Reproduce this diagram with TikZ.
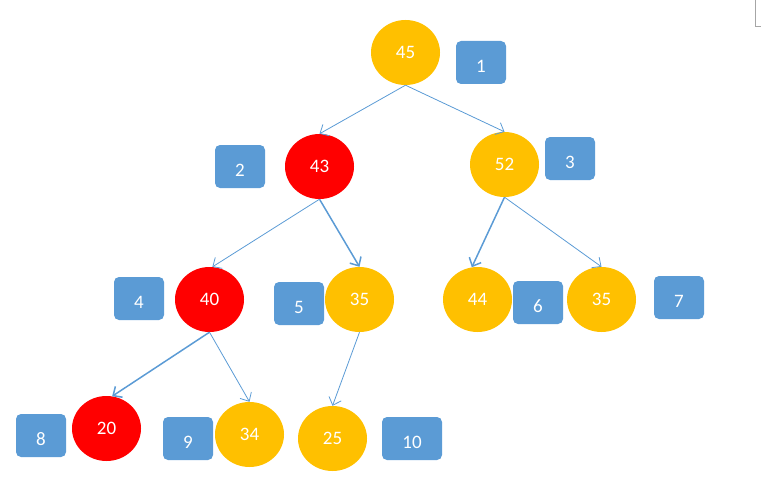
\documentclass[tikz,border=0pt]{standalone}
\usepackage{fontspec}
\setmainfont{Carlito}
\usetikzlibrary{shapes.geometric,arrows.meta}
\definecolor{gold}{HTML}{FFC000}
\definecolor{redn}{HTML}{FF0000}
\definecolor{bluebox}{HTML}{5B9BD5}
\definecolor{arrowc}{HTML}{5B9BD5}
\tikzset{
  circ/.style={ellipse, minimum width=69pt, minimum height=65pt, inner sep=0pt,
    text=white, font=\fontsize{19}{22}\selectfont, text height=12pt, text depth=0pt},
  goldc/.style={circ, fill=gold},
  redc/.style={circ, fill=redn},
  numbox/.style={rectangle, rounded corners=5pt, fill=bluebox, minimum width=50pt,
    minimum height=43pt, inner sep=0pt, text=white, font=\fontsize{19}{22}\selectfont,
    text height=20pt, text depth=0pt},
  edge/.style={draw=arrowc, line width=0.8pt, -{Straight Barb[length=7pt,width=13pt]}},
  thickedge/.style={edge, line width=1.5pt}
}
\begin{document}
\begin{tikzpicture}[x=1pt,y=-1pt]
\useasboundingbox (0,0) rectangle (761,495);
% nodes
\node[goldc] (n45) at (405.5,52.5) {45};
\node[numbox] (b1) at (481,62.5) {1};
\node[redc] (n43) at (319.5,166.5) {43};
\node[numbox] (b2) at (240,166.5) {2};
\node[goldc] (n52) at (504.5,164.5) {52};
\node[numbox] (b3) at (570,158.5) {3};
\node[redc] (n40) at (209.5,299.5) {40};
\node[numbox] (b4) at (139,298.5) {4};
\node[numbox] (b5) at (299,303.5) {5};
\node[goldc] (n35a) at (359.5,299.5) {35};
\node[goldc] (n44) at (477.5,299.5) {44};
\node[numbox] (b6) at (538,302.5) {6};
\node[goldc] (n35b) at (601.5,299.5) {35};
\node[numbox] (b7) at (679,297.5) {7};
\node[numbox] (b8) at (41,435.5) {8};
\node[redc] (n20) at (106.5,428.5) {20};
\node[numbox] (b9) at (188,438.5) {9};
\node[goldc] (n34) at (249.5,434.5) {34};
\node[goldc] (n25) at (332.5,438.5) {25};
\node[numbox, minimum width=60pt] (b10) at (412,438.5) {10};
% edges
\draw[edge] (n45.south) -- (n43.north);
\draw[edge] (n45.south) -- (n52.north);
\draw[edge] (n43.south) -- (n40.85);
\draw[thickedge] (n43.south) -- (n35a.north);
\draw[thickedge] (n52.south) -- (n44.100);
\draw[edge] (n52.south) -- (n35b.north);
\draw[thickedge] (n40.south) -- (n20.80);
\draw[edge] (n40.south) -- (n34.north);
\draw[edge] (n35a.south) -- (n25.north);
% corner artifact
\coordinate (c1) at (755,0);
\coordinate (c2) at (755,26);
\coordinate (c3) at (761,26);
\draw[gray!70, line width=0.8pt] (c1) -- (c2) -- (c3);
\end{tikzpicture}
\end{document}
